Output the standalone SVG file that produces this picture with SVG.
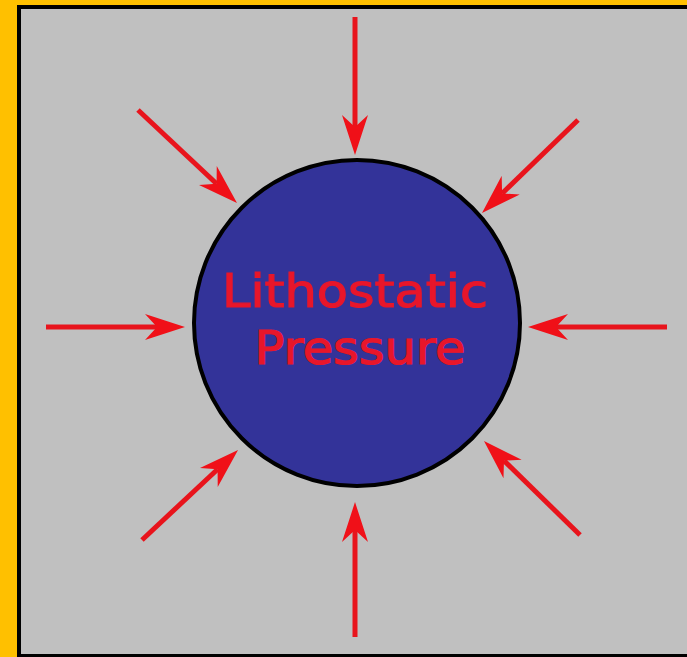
<svg xmlns="http://www.w3.org/2000/svg" width="687" height="657" viewBox="0 0 687 657">
<style>
.arr{stroke:#E8141C;stroke-width:5;fill:none;marker-end:url(#ah)}
.lbl{font-family:"DejaVu Sans","Liberation Sans",sans-serif;font-size:46px;fill:#E8162A;stroke:#E8162A;stroke-width:1.2;text-anchor:middle}
</style>
<defs>
<marker id="ah" markerUnits="userSpaceOnUse" viewBox="0 0 40 28" markerWidth="40" markerHeight="28" refX="12" refY="14" orient="auto">
<path d="M0,1 L40,14 L0,27 L12,14 z" fill="#F01018"/>
</marker>
</defs>
<rect x="0" y="0" width="687" height="657" fill="#FFC000"/>
<rect x="19" y="7" width="700" height="649" fill="#C0C0C0" stroke="#000" stroke-width="4"/>
<g id="ball">
<circle cx="357" cy="323" r="163" fill="#333399" stroke="#000" stroke-width="4"/>
<text class="lbl" x="355" y="307" textLength="266" lengthAdjust="spacingAndGlyphs">Lithostatic</text>
<text class="lbl" x="360" y="364" textLength="211" lengthAdjust="spacingAndGlyphs">Pressure</text>
</g>
<g id="connectors">
<path class="arr" d="M355,17 L355,127"/>
<path class="arr" d="M355,637 L355,530"/>
<path class="arr" d="M46,327 L157,327"/>
<path class="arr" d="M667,327 L556,327"/>
<path class="arr" d="M138,110 L216.6,183.8"/>
<path class="arr" d="M578,120 L502.1,193.5"/>
<path class="arr" d="M142,540 L217.6,469.2"/>
<path class="arr" d="M580,535 L504,460.6"/>
</g>
</svg>
